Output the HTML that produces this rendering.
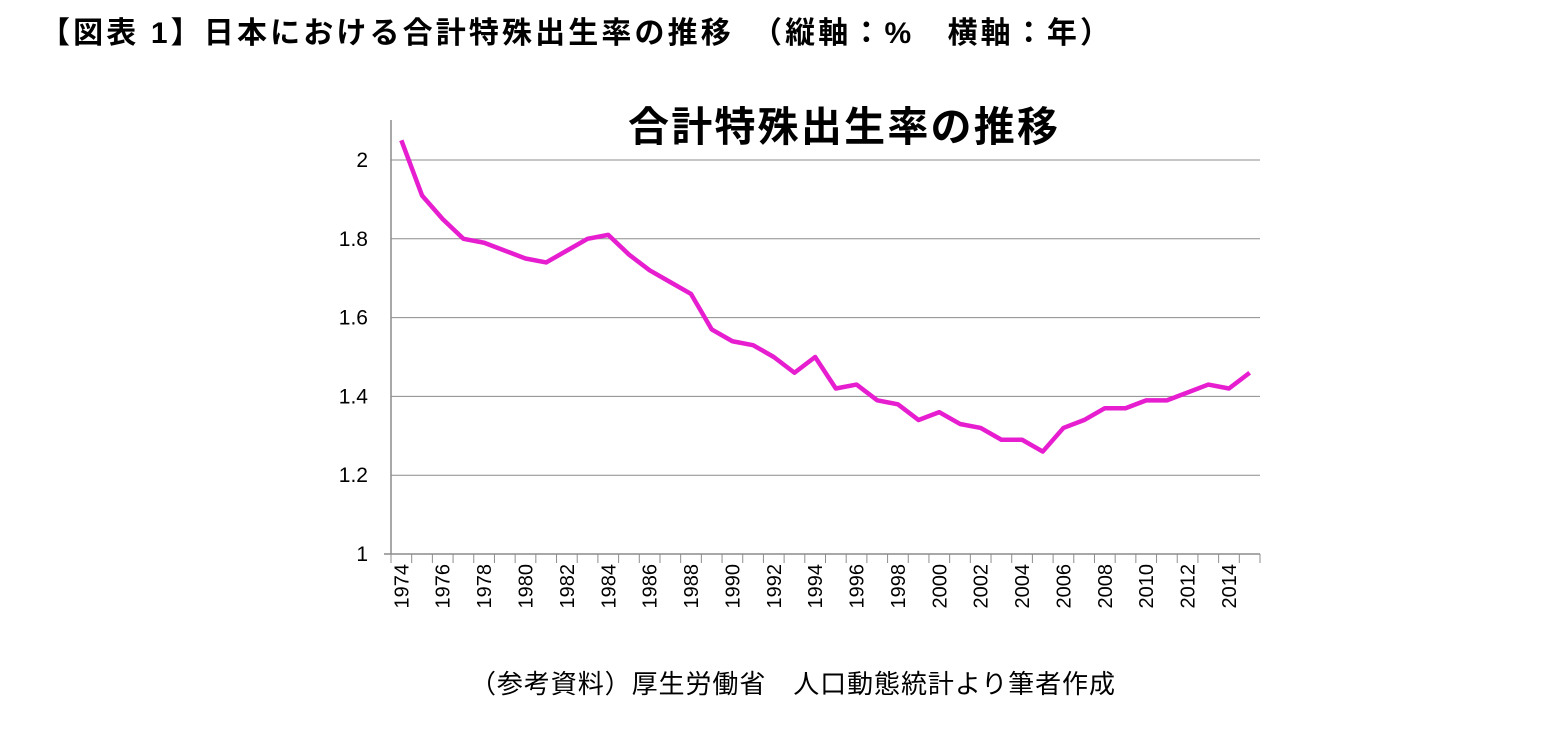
<!DOCTYPE html>
<html><head><meta charset="utf-8"><style>
body{margin:0;background:#fff;width:1544px;height:724px;overflow:hidden;font-family:"Liberation Sans","Noto Sans CJK JP",sans-serif}
</style></head><body>
<svg width="1544" height="724" xmlns="http://www.w3.org/2000/svg">
<text x="40" y="43" font-size="30" font-weight="bold" textLength="1070" lengthAdjust="spacing" font-family="Liberation Sans,Noto Sans CJK JP,sans-serif">【図表 1】日本における合計特殊出生率の推移　（縦軸：%　横軸：年）</text>
<text x="628" y="141" font-size="41" font-weight="bold" textLength="430" lengthAdjust="spacing" font-family="Liberation Sans,Noto Sans CJK JP,sans-serif">合計特殊出生率の推移</text>
<text x="470" y="693" font-size="26" textLength="645" lengthAdjust="spacing" font-family="Liberation Sans,Noto Sans CJK JP,sans-serif">（参考資料）厚生労働省　人口動態統計より筆者作成</text>
<g id="grid"></g><g id="axes"></g><g id="marks"></g>
</svg>
<script>
const years=[];for(let y=1974;y<=2015;y++)years.push(y);
const rates=[2.05,1.91,1.85,1.80,1.79,1.77,1.75,1.74,1.77,1.80,1.81,1.76,1.72,1.69,1.66,1.57,1.54,1.53,1.50,1.46,1.50,1.42,1.43,1.39,1.38,1.34,1.36,1.33,1.32,1.29,1.29,1.26,1.32,1.34,1.37,1.37,1.39,1.39,1.41,1.43,1.42,1.46];
const yTicks=[1,1.2,1.4,1.6,1.8,2];
const ns="http://www.w3.org/2000/svg";
const x0=391,x1=1260,y0=554,yMin=1,yMax=2,pxPerUnit=394;
const step=(x1-x0)/years.length;
const X=i=>x0+step*(i+0.5);
const Y=v=>y0-(v-yMin)*pxPerUnit;
function mk(t,a,p){const e=document.createElementNS(ns,t);for(const k in a)e.setAttribute(k,a[k]);p.appendChild(e);return e;}
const grid=document.getElementById('grid'),axes=document.getElementById('axes'),marks=document.getElementById('marks');
yTicks.forEach(v=>{
 if(v>yMin){const l=mk('line',{x1:x0,x2:x1,y1:Y(v),y2:Y(v),stroke:'#8c8c8c','stroke-width':1},grid);
 
 }
 const t=mk('text',{x:368,y:Y(v)+7,'font-size':21,'text-anchor':'end'},axes);t.textContent=v;
 
 
});
const ya=mk('line',{x1:x0,x2:x0,y1:120,y2:y0,stroke:'#8c8c8c','stroke-width':1.5},axes);


const xa=mk('line',{x1:384,x2:x1,y1:y0,y2:y0,stroke:'#8c8c8c','stroke-width':1.5},axes);


for(let i=0;i<=years.length;i++){const tk=mk('line',{x1:x0+step*i,x2:x0+step*i,y1:y0,y2:y0+9,stroke:'#8c8c8c','stroke-width':1},axes);
 
 }
years.forEach((yr,i)=>{if(i%2)return;
 const t=mk('text',{x:0,y:0,'font-size':20,'text-anchor':'end',transform:`translate(${X(i)+7},564) rotate(-90)`},axes);t.textContent=yr;
 
 
});
const p=mk('polyline',{points:rates.map((v,i)=>X(i)+','+Y(v)).join(' '),fill:'none',stroke:'#e61ecf','stroke-width':4.5,'stroke-linejoin':'round'},marks);


</script>
</body></html>
